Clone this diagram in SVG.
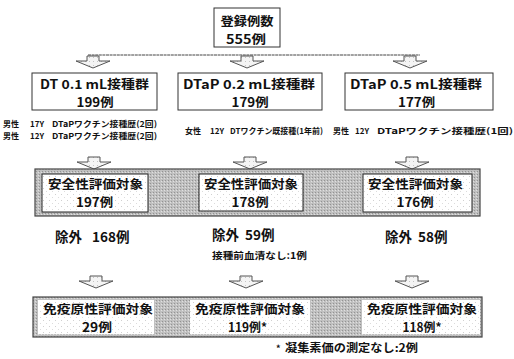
<svg xmlns="http://www.w3.org/2000/svg" width="514" height="359" viewBox="0 0 514 359">
<defs>
<pattern id="dots" width="6" height="6" patternUnits="userSpaceOnUse">
<rect width="6" height="6" fill="#ffffff"/>
<rect x="1" y="2" width="1" height="1" fill="#d0d0d0"/>
<rect x="4" y="5" width="1" height="1" fill="#dcdcdc"/>
</pattern>
<pattern id="grey" width="3" height="3" patternUnits="userSpaceOnUse">
<rect width="3" height="3" fill="#c0c0c0"/>
<rect x="0" y="0" width="1" height="1" fill="#939393"/>
<rect x="2" y="1" width="1" height="1" fill="#e0e0e0"/>
</pattern>
<pattern id="arrowfill" width="4" height="4" patternUnits="userSpaceOnUse">
<rect width="4" height="4" fill="#f4f4f4"/>
<rect x="1" y="1" width="1" height="1" fill="#c4c4c4"/>
</pattern>
</defs>
<style>
text{font-family:"Noto Sans CJK JP","Noto Sans CJK SC",sans-serif;font-weight:bold;fill:#111}
.t14{font-size:12.4px;text-anchor:middle}
.t13{font-size:13.5px}
.t9{font-size:8px}
.box{fill:#fff;stroke:#333;stroke-width:1}
.inner{fill:url(#dots);stroke:#222;stroke-width:1}
.band{fill:url(#grey);stroke:#444;stroke-width:1.2}
.arr{fill:url(#arrowfill);stroke:#555;stroke-width:1}
.line{stroke:#444;stroke-width:1;fill:none;stroke-dasharray:3 0.6}
</style>

<g id="connectors">
<path class="line" d="M88 55 H420"/>
<path class="arr" d="M87 56 h12 v5 h11 l-17 7 l-17 -7 h11 z"/>
<path class="arr" d="M241 56 h12 v5 h11 l-17 7 l-17 -7 h11 z"/>
<path class="arr" d="M404 56 h12 v5 h11 l-17 7 l-17 -7 h11 z"/>
<path class="arr" d="M88 157 h12 v5 h11 l-17 7 l-17 -7 h11 z"/>
<path class="arr" d="M244 157 h12 v5 h11 l-17 7 l-17 -7 h11 z"/>
<path class="arr" d="M406 157 h12 v5 h11 l-17 7 l-17 -7 h11 z"/>
<path class="arr" d="M90 276 h12 v5 h11 l-17 7 l-17 -7 h11 z"/>
<path class="arr" d="M240 276 h12 v5 h11 l-17 7 l-17 -7 h11 z"/>
<path class="arr" d="M406 276 h12 v5 h11 l-17 7 l-17 -7 h11 z"/>
</g>

<g id="n-total">
<rect class="box" x="214" y="8" width="66" height="39"/>
<text class="t14"><tspan x="247" y="26" textLength="53" lengthAdjust="spacingAndGlyphs">登録例数</tspan><tspan x="246" y="44.2" textLength="40" lengthAdjust="spacingAndGlyphs">555例</tspan></text>
</g>

<g id="n-dt01">
<rect class="box" x="32" y="73" width="125" height="37"/>
<text class="t14"><tspan x="94.5" y="89" textLength="109" lengthAdjust="spacingAndGlyphs">DT 0.1 mL接種群</tspan><tspan x="95" y="107.2" textLength="37" lengthAdjust="spacingAndGlyphs">199例</tspan></text>
</g>
<g id="n-dtap02">
<rect class="box" x="178" y="73" width="144" height="37"/>
<text class="t14"><tspan x="249" y="89" textLength="132" lengthAdjust="spacingAndGlyphs">DTaP 0.2 mL接種群</tspan><tspan x="250" y="107.2" textLength="37" lengthAdjust="spacingAndGlyphs">179例</tspan></text>
</g>
<g id="n-dtap05">
<rect class="box" x="345" y="73" width="148" height="37"/>
<text class="t14"><tspan x="416" y="89" textLength="132" lengthAdjust="spacingAndGlyphs">DTaP 0.5 mL接種群</tspan><tspan x="416.5" y="107.2" textLength="37" lengthAdjust="spacingAndGlyphs">177例</tspan></text>
</g>

<g id="notes-level2">
<text class="t9"><tspan x="3" y="127">男性</tspan><tspan x="30">17Y</tspan><tspan x="52" textLength="105" lengthAdjust="spacingAndGlyphs">DTaPワクチン接種歴(2回)</tspan><tspan x="3" y="139">男性</tspan><tspan x="30">12Y</tspan><tspan x="52" textLength="105" lengthAdjust="spacingAndGlyphs">DTaPワクチン接種歴(2回)</tspan></text>
<text class="t9"><tspan x="185" y="134">女性</tspan><tspan x="210">12Y</tspan><tspan x="230" textLength="93" lengthAdjust="spacingAndGlyphs">DTワクチン既接種(1年前)</tspan></text>
<text class="t9"><tspan x="333" y="134">男性</tspan><tspan x="355">12Y</tspan><tspan x="377" textLength="136" lengthAdjust="spacingAndGlyphs">DTaPワクチン接種歴(1回)</tspan></text>
</g>

<g id="n-safety">
<rect class="band" x="35" y="169" width="445" height="47"/>
<g id="n-safety-1">
<rect class="inner" x="42" y="174" width="106" height="38"/>
<text class="t14"><tspan x="95.5" y="189" textLength="95" lengthAdjust="spacingAndGlyphs">安全性評価対象</tspan><tspan x="94.5" y="207.2" textLength="37" lengthAdjust="spacingAndGlyphs">197例</tspan></text>
</g>
<g id="n-safety-2">
<rect class="inner" x="199" y="174" width="104" height="37"/>
<text class="t14"><tspan x="251" y="189" textLength="94" lengthAdjust="spacingAndGlyphs">安全性評価対象</tspan><tspan x="250" y="207.2" textLength="37" lengthAdjust="spacingAndGlyphs">178例</tspan></text>
</g>
<g id="n-safety-3">
<rect class="inner" x="363" y="174" width="109" height="38"/>
<text class="t14"><tspan x="415.5" y="189" textLength="95" lengthAdjust="spacingAndGlyphs">安全性評価対象</tspan><tspan x="415" y="207.2" textLength="37" lengthAdjust="spacingAndGlyphs">176例</tspan></text>
</g>
</g>

<g id="excluded">
<text class="t13" x="55" y="242">除外<tspan x="92">168例</tspan></text>
<text class="t13" x="212" y="240">除外<tspan x="245">59例</tspan></text>
<text class="t13" x="385" y="242">除外<tspan x="418">58例</tspan></text>
<text class="t9" x="212" y="259" style="font-size:9.5px" textLength="95" lengthAdjust="spacingAndGlyphs">接種前血清なし:1例</text>
</g>

<g id="n-immuno">
<rect class="band" x="33" y="297" width="449" height="40"/>
<g id="n-immuno-1">
<rect x="38" y="300" width="116" height="34" fill="url(#dots)"/>
<text class="t14"><tspan x="98" y="314" textLength="110" lengthAdjust="spacingAndGlyphs">免疫原性評価対象</tspan><tspan x="97" y="332.2" textLength="30" lengthAdjust="spacingAndGlyphs">29例</tspan></text>
</g>
<g id="n-immuno-2">
<rect x="190" y="300" width="120" height="34" fill="url(#dots)"/>
<text class="t14"><tspan x="250" y="314" textLength="110" lengthAdjust="spacingAndGlyphs">免疫原性評価対象</tspan><tspan x="247.5" y="332.2" textLength="39" lengthAdjust="spacingAndGlyphs">119例*</tspan></text>
</g>
<g id="n-immuno-3">
<rect x="362" y="300" width="118" height="34" fill="url(#dots)"/>
<text class="t14"><tspan x="422" y="314" textLength="110" lengthAdjust="spacingAndGlyphs">免疫原性評価対象</tspan><tspan x="422" y="332.2" textLength="39" lengthAdjust="spacingAndGlyphs">118例*</tspan></text>
</g>
</g>

<g id="footnote">
<text x="276" y="352" style="font-size:11px"><tspan style="font-size:9px">*</tspan><tspan x="285" textLength="133" lengthAdjust="spacingAndGlyphs">凝集素価の測定なし:2例</tspan></text>
</g>
</svg>
